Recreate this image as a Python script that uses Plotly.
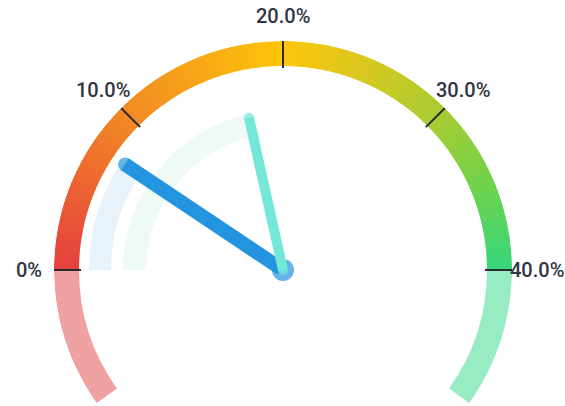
import numpy as np
import plotly.graph_objects as go

# ---- data ----
scale_min = 0
scale_max = 40
tick_values = [0, 10, 20, 30, 40]
tick_labels = ["0%", "10.0%", "20.0%", "30.0%", "40.0%"]
needle_names = ["Series A", "Series B"]
needle_values = [7.5, 17.2]
extension = 7.9  # scale units the faded arc runs beyond each end

# gradient colour stops along the scale (value, colour)
stop_values = [0, 5, 10, 15, 20, 25, 30, 35, 40]
stop_colors = ["#e5403f", "#ec6332", "#f18a24", "#f8a716", "#fdc60a",
               "#d7c81f", "#a9cc33", "#6fd24c", "#36d67c"]

# ---- styling / geometry ----
W, H = 565, 406
CX, CY = 283, 270        # gauge centre in figure pixels
DEG_PER_UNIT = 180.0 / (scale_max - scale_min)
R_OUT, R_IN = 229, 204
TICK_IN = 202
LABEL_R = 254
needle_styles = [
    dict(color="#2394df", light="#e7f2fb", width=14, length=190, arc_in=172, arc_out=194),
    dict(color="#73e8d6", light="#effaf7", width=10, length=156, arc_in=137, arc_out=160),
]
label_color = "#2f3542"


def to_theta(v):
    return (np.asarray(v, dtype=float) - scale_min) * DEG_PER_UNIT


def hex_to_rgb(h):
    h = h.lstrip("#")
    return np.array([int(h[i:i + 2], 16) for i in (0, 2, 4)], dtype=float)


stop_rgb = np.array([hex_to_rgb(c) for c in stop_colors])


def color_at(v):
    rgb = [np.interp(v, stop_values, stop_rgb[:, k]) for k in range(3)]
    return "rgb(%d,%d,%d)" % tuple(int(round(x)) for x in rgb)


fig = go.Figure()

# faded extensions
for lo, hi, col in [(scale_min - extension, scale_min, "#f0a1a1"),
                    (scale_max, scale_max + extension, "#97ecc4")]:
    t0, t1 = to_theta(lo), to_theta(hi)
    fig.add_trace(go.Barpolar(r=[R_OUT - R_IN], base=[R_IN], theta=[(t0 + t1) / 2],
                              width=[t1 - t0], marker=dict(color=col, line=dict(width=0)),
                              hoverinfo="skip"))

# gradient arc, split into thin segments
N = 240
edges = np.linspace(scale_min, scale_max, N + 1)
mids = (edges[:-1] + edges[1:]) / 2
seg_w = (to_theta(edges[1]) - to_theta(edges[0])) * 1.25
fig.add_trace(go.Barpolar(r=[R_OUT - R_IN] * N, base=[R_IN] * N, theta=to_theta(mids),
                          width=[seg_w] * N,
                          marker=dict(color=[color_at(v) for v in mids], line=dict(width=0)),
                          hoverinfo="skip"))

# tick marks
for tv in to_theta(tick_values):
    fig.add_trace(go.Scatterpolar(r=[TICK_IN, R_OUT], theta=[tv, tv], mode="lines",
                                  line=dict(color="#2b2b2b", width=2), hoverinfo="skip"))

# progress arcs
for v, st in zip(needle_values, needle_styles):
    tv = to_theta(v)
    fig.add_trace(go.Barpolar(r=[st["arc_out"] - st["arc_in"]], base=[st["arc_in"]],
                              theta=[tv / 2], width=[tv],
                              marker=dict(color=st["light"], line=dict(width=0)),
                              hoverinfo="skip"))

# needles
for i, (name, v, st) in enumerate(zip(needle_names, needle_values, needle_styles)):
    tv = float(to_theta(v))
    fig.add_trace(go.Scatterpolar(r=[0, st["length"]], theta=[tv, tv], mode="lines",
                                  line=dict(color=st["color"], width=st["width"]),
                                  name=name, hoverinfo="skip"))
    sizes = [22 if i == 0 else st["width"], st["width"]]
    fig.add_trace(go.Scatterpolar(r=[0, st["length"]], theta=[tv, tv], mode="markers",
                                  marker=dict(color=st["color"], size=sizes, line=dict(width=0)),
                                  hoverinfo="skip"))

# tick labels (placed on the same polar geometry as the gauge)
annotations = []
for tv, txt in zip(to_theta(tick_values), tick_labels):
    ang = np.radians(180 - tv)
    x_px = CX + LABEL_R * np.cos(ang)
    y_px = CY - LABEL_R * np.sin(ang)
    annotations.append(dict(x=x_px / W, y=1 - y_px / H, xref="paper", yref="paper",
                            text=txt, showarrow=False, xanchor="center", yanchor="middle",
                            font=dict(family="Roboto", size=20, color=label_color,
                                      weight=500)))

theta_lo = float(to_theta(scale_min - extension))
bottom_px = CY + R_OUT * np.sin(np.radians(-theta_lo))
fig.update_layout(
    width=W, height=H,
    margin=dict(l=0, r=0, t=0, b=0),
    paper_bgcolor="white",
    showlegend=False,
    barmode="overlay",
    annotations=annotations,
    polar=dict(
        sector=[theta_lo, 180 - theta_lo],
        hole=0,
        domain=dict(x=[(CX - R_OUT) / W, (CX + R_OUT) / W],
                    y=[max(0.0, 1 - bottom_px / H), 1 - (CY - R_OUT) / H]),
        bgcolor="rgba(0,0,0,0)",
        radialaxis=dict(range=[0, R_OUT], visible=False),
        angularaxis=dict(rotation=180, direction="clockwise", showgrid=False,
                         showline=False, ticks="", showticklabels=False),
    ),
)

fig.write_html("out.html",
               config={"displayModeBar": False},
               post_script="document.body.style.margin='0';"
                           "document.body.style.overflow='hidden';")
